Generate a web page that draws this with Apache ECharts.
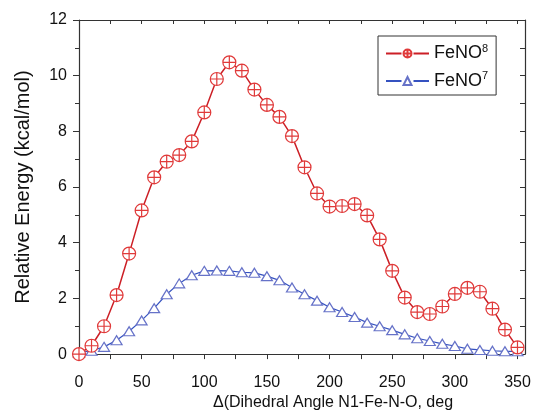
<!DOCTYPE html>
<html>
<head>
<meta charset="utf-8">
<script src="https://cdn.jsdelivr.net/npm/echarts@6/dist/echarts.min.js"></script>
<style>
  html, body { margin: 0; padding: 0; background: #fff; }
  #chart { width: 535px; height: 416px; }
</style>
</head>
<body>
<div id="chart"></div>
<script>
// Dihedral scan angle (deg)
const angles = [0, 10, 20, 30, 40, 50, 60, 70, 80, 90, 100, 110, 120, 130, 140, 150, 160, 170,
  180, 190, 200, 210, 220, 230, 240, 250, 260, 270, 280, 290, 300, 310, 320, 330, 340, 350];

// Relative energies (kcal/mol)
const feno8 = [0, 0.3, 1.0, 2.12, 3.61, 5.16, 6.35, 6.91, 7.15, 7.64, 8.68, 9.88, 10.48, 10.18,
  9.5, 8.95, 8.52, 7.83, 6.71, 5.77, 5.3, 5.32, 5.39, 4.98, 4.12, 2.99, 2.03, 1.51, 1.44, 1.71,
  2.16, 2.38, 2.24, 1.63, 0.88, 0.24];
const feno7 = [0.05, 0.12, 0.26, 0.5, 0.82, 1.21, 1.65, 2.15, 2.54, 2.83, 2.99, 3.0, 2.99, 2.94,
  2.92, 2.8, 2.65, 2.39, 2.15, 1.92, 1.68, 1.51, 1.33, 1.13, 1.0, 0.86, 0.71, 0.57, 0.47, 0.37,
  0.29, 0.19, 0.15, 0.12, 0.1, 0.1];

// Axis ticks
const xLabels = [0, 50, 100, 150, 200, 250, 300, 350];
const xTicks = [0, 25, 50, 75, 100, 125, 150, 175, 200, 225, 250, 275, 300, 325, 350];
const yLabels = [0, 2, 4, 6, 8, 10, 12];

const FONT = 'Liberation Sans, Arial, sans-serif';
const AXIS = '#333';
const circlePlus = 'path://M0,10A10,10,0,1,1,20,10A10,10,0,1,1,0,10Z M10,0L10,20 M0,10L20,10';

const chart = echarts.init(document.getElementById('chart'), null, { renderer: 'canvas' });

chart.setOption({
  animation: false,
  backgroundColor: '#fff',
  grid: { left: 79, right: 10, top: 20, bottom: 56 },
  legend: {
    orient: 'vertical',
    left: 378,
    top: 36,
    padding: [7, 8, 5, 7],
    itemGap: 8,
    itemWidth: 43,
    itemHeight: 10,
    borderColor: '#333',
    borderWidth: 1,
    data: ['FeNO8', 'FeNO7'],
    // leave a small gap on both sides of the marker in the legend sample line
    lineStyle: { type: [15.5, 12] },
    formatter: function (name) {
      return '{b|' + name.slice(0, 4) + '}{s|' + name.slice(4) + '}';
    },
    textStyle: {
      fontFamily: FONT,
      color: '#111',
      rich: {
        b: { fontFamily: FONT, fontSize: 18, color: '#111', lineHeight: 21 },
        s: { fontFamily: FONT, fontSize: 11, color: '#111', verticalAlign: 'top', lineHeight: 21, padding: [0, 0, 8, 0] }
      }
    }
  },
  xAxis: [
    {
      type: 'value', min: 0, max: 356, position: 'bottom',
      name: 'Δ(Dihedral Angle N1-Fe-N-O, deg',
      nameLocation: 'middle', nameGap: 38,
      nameTextStyle: { fontFamily: FONT, fontSize: 16, color: '#111', padding: [0, 0, 0, 62] },
      axisLine: { show: true, onZero: false, lineStyle: { color: AXIS, width: 1.2 } },
      axisTick: { show: true, inside: false, length: 5, customValues: xTicks, lineStyle: { color: AXIS } },
      axisLabel: { customValues: xLabels, margin: 20, fontFamily: FONT, fontSize: 16, color: '#111' },
      splitLine: { show: false }
    },
    {
      type: 'value', min: 0, max: 356, position: 'top',
      axisLine: { show: true, onZero: false, lineStyle: { color: AXIS, width: 1.2 } },
      axisTick: { show: true, inside: true, length: 4, customValues: xTicks, lineStyle: { color: AXIS } },
      axisLabel: { show: false },
      splitLine: { show: false }
    }
  ],
  yAxis: [
    {
      type: 'value', min: 0, max: 12, interval: 2, position: 'left',
      name: 'Relative Energy (kcal/mol)',
      nameLocation: 'middle', nameGap: 46,
      nameTextStyle: { fontFamily: FONT, fontSize: 20, color: '#111' },
      axisLine: { show: true, onZero: false, lineStyle: { color: AXIS, width: 1.2 } },
      axisTick: { show: true, inside: false, length: 6, lineStyle: { color: AXIS } },
      minorTick: { show: true, splitNumber: 2, length: 4, lineStyle: { color: AXIS } },
      axisLabel: { customValues: yLabels, margin: 12, fontFamily: FONT, fontSize: 16, color: '#111' },
      splitLine: { show: false }
    },
    {
      type: 'value', min: 0, max: 12, interval: 1, position: 'right',
      axisLine: { show: true, onZero: false, lineStyle: { color: AXIS, width: 1.2 } },
      axisTick: { show: true, inside: true, length: 5, lineStyle: { color: AXIS } },
      axisLabel: { show: false },
      splitLine: { show: false }
    }
  ],
  series: [
    {
      name: 'FeNO8',
      type: 'line',
      xAxisIndex: 0, yAxisIndex: 0,
      data: angles.map((a, i) => [a, feno8[i]]),
      symbol: circlePlus,
      symbolSize: 13,
      z: 3,
      lineStyle: { color: '#cc1f26', width: 1.5 },
      itemStyle: { color: '#fff', borderColor: '#e03a3a', borderWidth: 1.2 }
    },
    {
      name: 'FeNO7',
      type: 'line',
      xAxisIndex: 0, yAxisIndex: 0,
      data: angles.map((a, i) => [a, feno7[i]]),
      symbol: 'triangle',
      symbolSize: [11, 9],
      z: 2,
      lineStyle: { color: '#3552c0', width: 1.2 },
      itemStyle: { color: '#fff', borderColor: '#6672c8', borderWidth: 1.2 }
    }
  ]
});
</script>
</body>
</html>
